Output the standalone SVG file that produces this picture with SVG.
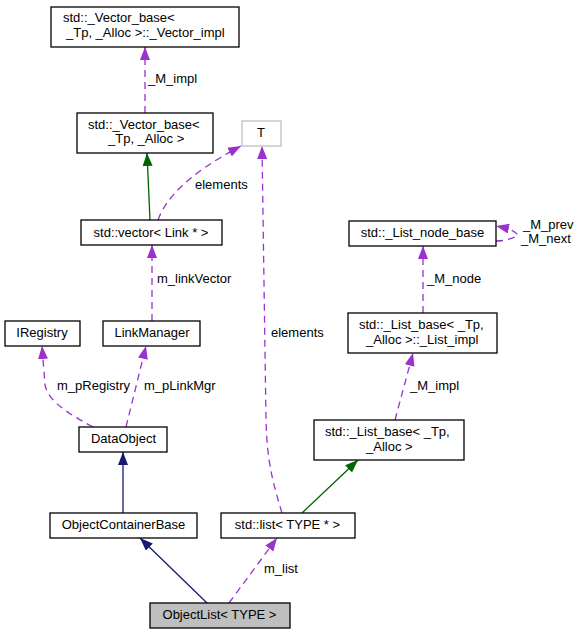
<svg xmlns="http://www.w3.org/2000/svg" width="580" height="635" viewBox="0 0 580 635">
<style>
text{font-family:"Liberation Sans",Arial,Helvetica,sans-serif;font-size:13px;fill:#000}
.m{text-anchor:middle}
.box{fill:#fff;stroke:#000;stroke-width:1.3}
.gray{fill:#fff;stroke:#bfbfbf;stroke-width:1.3}
.sel{fill:#bfbfbf;stroke:#000;stroke-width:1.3}
.dash{fill:none;stroke:#9a32cd;stroke-width:1.3;stroke-dasharray:7,5}
.green{fill:none;stroke:#006400;stroke-width:1.3}
.navy{fill:none;stroke:#191970;stroke-width:1.3}
</style>
<defs>
<marker id="ap" markerUnits="userSpaceOnUse" markerWidth="14" markerHeight="11" refX="13" refY="5" orient="auto"><path d="M0,0 L13,5 L0,10 z" fill="#9a32cd"/></marker>
<marker id="ag" markerUnits="userSpaceOnUse" markerWidth="14" markerHeight="11" refX="13" refY="5" orient="auto"><path d="M0,0 L13,5 L0,10 z" fill="#006400"/></marker>
<marker id="an" markerUnits="userSpaceOnUse" markerWidth="14" markerHeight="11" refX="13" refY="5" orient="auto"><path d="M0,0 L13,5 L0,10 z" fill="#191970"/></marker>
</defs>
<g id="edges">
<path class="dash" d="M145,113 L145,47" marker-end="url(#ap)"/>
<text x="148" y="83">_M_impl</text>
<path class="green" d="M150,220 L147,153" marker-end="url(#ag)"/>
<path class="dash" d="M158,220 C166,198 188,174 241,146" marker-end="url(#ap)"/>
<text x="195" y="189">elements</text>
<path class="dash" d="M152,321 L152,245" marker-end="url(#ap)"/>
<text x="157" y="283">m_linkVector</text>
<path class="dash" d="M282,513 C272,480 267,460 266,420 L262,146" marker-end="url(#ap)"/>
<text x="271" y="337">elements</text>
<path class="dash" d="M423,313 L423,246" marker-end="url(#ap)"/>
<text x="427" y="283">_M_node</text>
<path class="dash" d="M496,241 C506,241 514,238 518,235 C514,230 506,228 496,226" marker-end="url(#ap)"/>
<text x="523" y="229">_M_prev</text>
<text x="521" y="243">_M_next</text>
<path class="dash" d="M395,420 L413,353" marker-end="url(#ap)"/>
<text x="410" y="390">_M_impl</text>
<path class="green" d="M302,513 L358,460" marker-end="url(#ag)"/>
<path class="dash" d="M93,427 C65,412 48,400 45,385 L42,346" marker-end="url(#ap)"/>
<text x="57" y="390">m_pRegistry</text>
<path class="dash" d="M126,427 L146,346" marker-end="url(#ap)"/>
<text x="144" y="390">m_pLinkMgr</text>
<path class="navy" d="M123,513 L123,452" marker-end="url(#an)"/>
<path class="navy" d="M207,603 L140,538" marker-end="url(#an)"/>
<path class="dash" d="M229,603 L277,538" marker-end="url(#ap)"/>
<text x="264" y="573">m_list</text>
</g>
<g id="vector_impl"><rect class="box" x="51" y="7" width="188" height="40"/><text x="63" y="22">std::_Vector_base&lt;</text><text x="66" y="37">_Tp, _Alloc &gt;::_Vector_impl</text></g>
<g id="vector_base"><rect class="box" x="77" y="113" width="136" height="40"/><text x="88" y="129">std::_Vector_base&lt;</text><text x="108" y="143">_Tp, _Alloc &gt;</text></g>
<g id="T"><rect class="gray" x="242" y="121" width="39" height="25"/><text class="m" x="261" y="137">T</text></g>
<g id="vector_link"><rect class="box" x="81" y="220" width="141" height="25"/><text class="m" x="151" y="237">std::vector&lt; Link * &gt;</text></g>
<g id="list_node_base"><rect class="box" x="349" y="221" width="147" height="25"/><text class="m" x="422.5" y="237">std::_List_node_base</text></g>
<g id="list_impl"><rect class="box" x="348" y="313" width="149" height="40"/><text x="359" y="329">std::_List_base&lt; _Tp,</text><text x="366" y="344">_Alloc &gt;::_List_impl</text></g>
<g id="list_base"><rect class="box" x="314" y="420" width="150" height="40"/><text x="325" y="436">std::_List_base&lt; _Tp,</text><text x="366" y="451">_Alloc &gt;</text></g>
<g id="IRegistry"><rect class="box" x="5" y="321" width="75" height="25"/><text class="m" x="42" y="337">IRegistry</text></g>
<g id="LinkManager"><rect class="box" x="103" y="321" width="97" height="25"/><text class="m" x="152" y="337">LinkManager</text></g>
<g id="DataObject"><rect class="box" x="79" y="427" width="88" height="25"/><text class="m" x="123.5" y="443">DataObject</text></g>
<g id="ObjectContainerBase"><rect class="box" x="50" y="513" width="147" height="25"/><text class="m" x="123.5" y="529">ObjectContainerBase</text></g>
<g id="std_list"><rect class="box" x="221" y="513" width="134" height="25"/><text class="m" x="287.5" y="529">std::list&lt; TYPE * &gt;</text></g>
<g id="ObjectList"><rect class="sel" x="150" y="603" width="140" height="25"/><text class="m" x="219.5" y="619">ObjectList&lt; TYPE &gt;</text></g>
</svg>
